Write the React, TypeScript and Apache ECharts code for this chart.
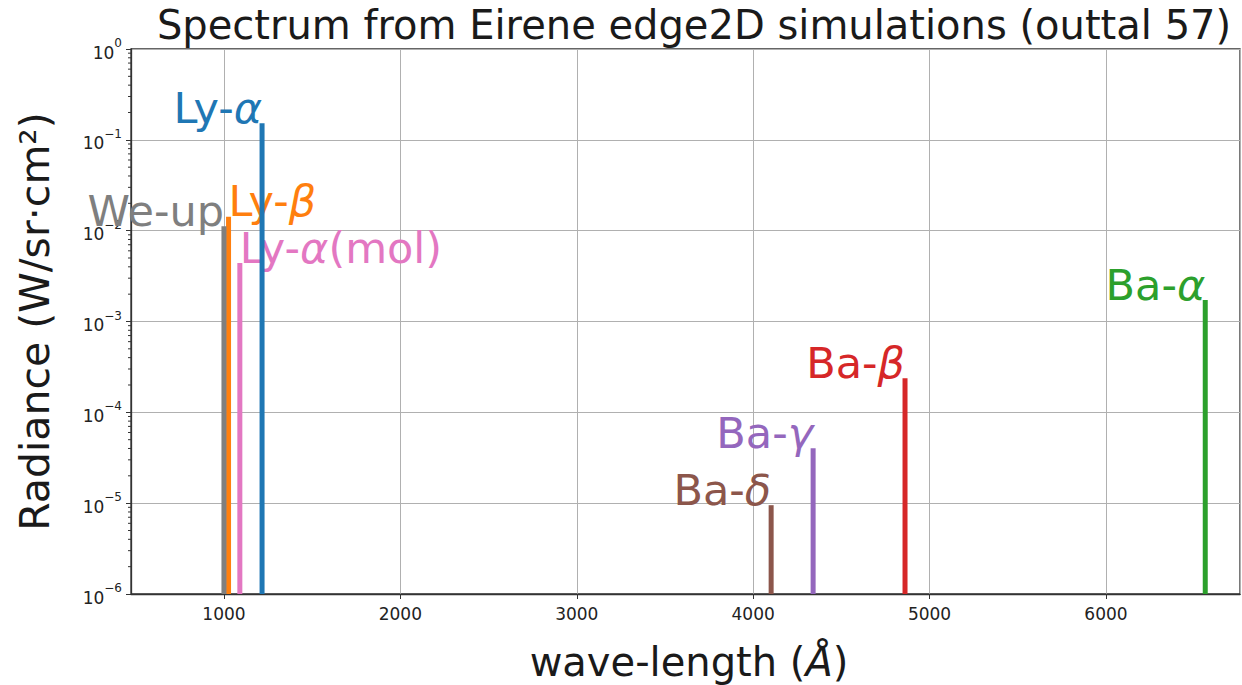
import React, { useEffect, useRef } from 'react';
import * as echarts from 'echarts';

// ---- data ----
const LINE_NAMES = ['Ly-α', 'Ly-β', 'Ba-α', 'Ba-β', 'Ba-γ', 'Ba-δ', 'Ly-α(mol)', 'We-up'];
const WAVELENGTHS = [1216, 1026, 6563, 4861, 4340, 4102, 1090, 1000];
const RADIANCE = [0.152, 0.0142, 0.00172, 2.38e-4, 4.03e-5, 9.5e-6, 0.0044, 0.0112];

// ---- styles ----
const LINE_COLORS = ['#1f77b4', '#ff7f0e', '#2ca02c', '#d62728', '#9467bd', '#8c564b', '#e377c2', '#7f7f7f'];
const LABEL_ALIGN = ['right', 'left', 'right', 'right', 'right', 'right', 'left', 'right'];

const TITLE = 'Spectrum from Eirene edge2D simulations (outtal 57)';
const Y_NAME = 'Radiance (W/sr·cm²)';

const X_MIN = 473;
const X_MAX = 6760;
const Y_MIN = 1e-6;
const Y_MAX = 1;
const MINOR_MULTIPLIERS = [2, 3, 4, 5, 6, 7, 8, 9];
const DECADES = [-6, -5, -4, -3, -2, -1];

const FONT = '"DejaVu Sans", Verdana, sans-serif';
const LABEL_FS = 43;

function richLabel(name: string): string {
  const parts = name.split(/([α-ω])/).filter((p) => p.length > 0);
  return parts.map((p) => (/^[α-ω]$/.test(p) ? `{i|${p}}` : `{n|${p}}`)).join('');
}

export default function App() {
  const ref = useRef<HTMLDivElement>(null);

  useEffect(() => {
    if (!ref.current) return;
    const chart = echarts.init(ref.current, null, { renderer: 'svg' });

    const lineData = WAVELENGTHS.map((w, i) => [w, RADIANCE[i], i]);
    const minorData: number[][] = [];
    DECADES.forEach((d) => MINOR_MULTIPLIERS.forEach((m) => minorData.push([X_MIN, m * Math.pow(10, d)])));

    const option: any = {
      animation: false,
      backgroundColor: '#ffffff',
      title: {
        text: TITLE,
        left: 689,
        top: 0,
        textAlign: 'center',
        textStyle: { fontFamily: FONT, fontSize: 40, fontWeight: 'normal', color: '#1a1a1a' },
      },
      grid: {
        left: 131,
        right: 2,
        top: 49,
        bottom: 91,
        show: true,
        borderColor: '#333',
        borderWidth: 1.3,
        containLabel: false,
      },
      xAxis: {
        type: 'value',
        min: X_MIN,
        max: X_MAX,
        splitNumber: 6,
        axisLine: { show: true, lineStyle: { color: '#333', width: 1.3 } },
        axisTick: { show: true, length: 5, lineStyle: { color: '#333', width: 1 } },
        axisLabel: {
          fontFamily: FONT,
          fontSize: 17,
          color: '#222',
          margin: 11,
          showMinLabel: false,
          showMaxLabel: false,
          formatter: (v: number) => (Math.abs(v % 1000) < 1e-6 ? String(v) : ''),
        },
        splitLine: { show: true, lineStyle: { color: '#b0b0b0', width: 1 } },
      },
      yAxis: {
        type: 'log',
        logBase: 10,
        min: Y_MIN,
        max: Y_MAX,
        splitNumber: 6,
        name: Y_NAME,
        nameLocation: 'middle',
        nameRotate: 90,
        nameGap: 76,
        nameTextStyle: { fontFamily: FONT, fontSize: 41, color: '#1a1a1a' },
        axisLine: { show: true, lineStyle: { color: '#333', width: 1.3 } },
        axisTick: { show: true, length: 5, lineStyle: { color: '#333', width: 1 } },
        axisLabel: {
          fontFamily: FONT,
          fontSize: 17,
          color: '#222',
          margin: 9,
          formatter: (v: number) => {
            const e = Math.round(Math.log10(v));
            return '{b|10}{s|' + (e < 0 ? '−' + -e : String(e)) + '}';
          },
          rich: {
            b: { fontFamily: FONT, fontSize: 17, color: '#222', lineHeight: 24, verticalAlign: 'bottom' },
            s: { fontFamily: FONT, fontSize: 12, color: '#222', lineHeight: 24, verticalAlign: 'top' },
          },
        },
        splitLine: { show: true, lineStyle: { color: '#b0b0b0', width: 1 } },
      },
      series: [
        {
          // minor ticks of the log axis
          type: 'custom',
          silent: true,
          clip: false,
          data: minorData,
          renderItem: (params: any, api: any) => {
            const p = api.coord([api.value(0), api.value(1)]);
            const left = params.coordSys.x;
            return {
              type: 'line',
              shape: { x1: left - 3, y1: p[1], x2: left, y2: p[1] },
              style: { stroke: '#333', lineWidth: 1 },
            };
          },
          z: 3,
        },
        {
          // labels
          type: 'custom',
          silent: true,
          clip: false,
          data: lineData,
          renderItem: (params: any, api: any) => {
            const i = api.value(2);
            const top = api.coord([api.value(0), api.value(1)]);
            const color = LINE_COLORS[i];
            return {
              type: 'text',
              x: top[0],
              y: top[1] - LABEL_FS * 0.36,
              style: {
                text: richLabel(LINE_NAMES[i]),
                align: LABEL_ALIGN[i],
                verticalAlign: 'middle',
                fill: color,
                rich: {
                  n: { fontFamily: FONT, fontSize: LABEL_FS, fill: color },
                  i: { fontFamily: FONT, fontSize: LABEL_FS, fontStyle: 'italic', fill: color },
                },
              },
            };
          },
          z: 4,
        },
        {
          // emission lines
          type: 'custom',
          silent: true,
          data: lineData,
          renderItem: (params: any, api: any) => {
            const i = api.value(2);
            const top = api.coord([api.value(0), api.value(1)]);
            const bot = api.coord([api.value(0), Y_MIN]);
            return {
              type: 'line',
              shape: { x1: top[0], y1: top[1], x2: bot[0], y2: bot[1] },
              style: { stroke: LINE_COLORS[i], lineWidth: 5 },
            };
          },
          z: 5,
        },
      ],
      graphic: [
        {
          type: 'text',
          x: 689,
          y: 662,
          style: {
            text: '{n|wave-length (}{i|Å}{n|)}',
            align: 'center',
            verticalAlign: 'middle',
            rich: {
              n: { fontFamily: FONT, fontSize: 40, fill: '#1a1a1a' },
              i: { fontFamily: FONT, fontSize: 40, fontStyle: 'italic', fill: '#1a1a1a' },
            },
          },
        },
      ],
    };

    chart.setOption(option);
    return () => chart.dispose();
  }, []);

  return (
    <div
      ref={ref}
      style={{ position: 'fixed', left: 0, top: 0, width: 1242, height: 685, background: '#fff' }}
    />
  );
}
